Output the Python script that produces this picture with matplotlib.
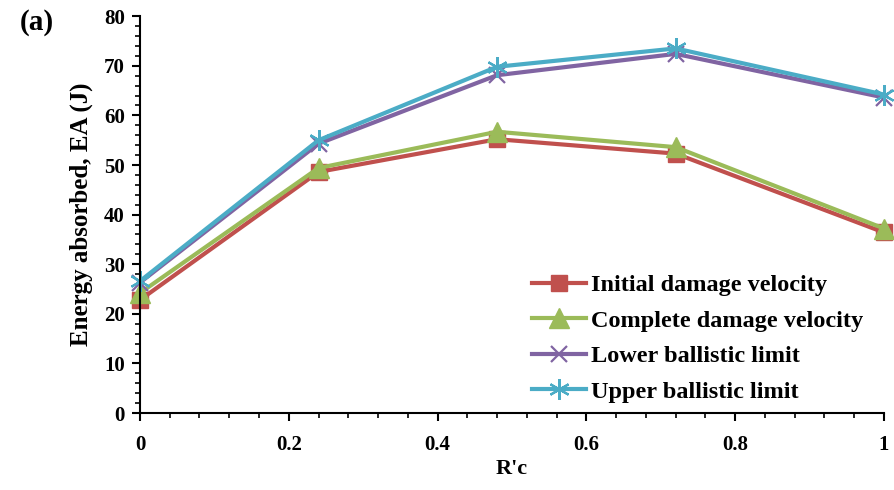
import matplotlib
matplotlib.use("Agg")
import matplotlib.pyplot as plt
from matplotlib.ticker import MultipleLocator

plt.rcParams['font.family'] = ['Liberation Serif', 'DejaVu Serif']
plt.rcParams['font.weight'] = 'bold'

rc = [0, 0.24, 0.48, 0.72, 1.0]
initial_damage = [22.8, 48.6, 55.2, 52.3, 36.4]
complete_damage = [24.2, 49.4, 56.7, 53.6, 37.2]
lower_ballistic = [26.3, 54.3, 68.1, 72.4, 63.6]
upper_ballistic = [26.6, 55.0, 69.8, 73.5, 64.2]

series = [
    ("Initial damage velocity", initial_damage, "#C0504D", "s", 12),
    ("Complete damage velocity", complete_damage, "#9BBB59", "^", 14),
    ("Lower ballistic limit", lower_ballistic, "#8064A2", "x", 12),
    ("Upper ballistic limit", upper_ballistic, "#4BACC6", (6, 2, 0), 15),
]

fig = plt.figure(figsize=(8.95, 4.9), dpi=100)
ax = fig.add_axes([0.1564, 0.157, 0.8313, 0.810])

for name, vals, col, mk, ms in series:
    ax.plot(rc, vals, color=col, lw=3, marker=mk, markersize=ms,
            markeredgewidth=1.6 if mk in ("x", (6, 2, 0)) else 1,
            markerfacecolor=col, markeredgecolor=col, label=name,
            clip_on=False)

ax.set_xlim(0, 1)
ax.set_ylim(0, 80)
ax.xaxis.set_minor_locator(MultipleLocator(0.04))
ax.yaxis.set_major_locator(MultipleLocator(10))
ax.yaxis.set_minor_locator(MultipleLocator(2))
ax.set_xticks([0, 0.2, 0.4, 0.6, 0.8, 1.0])
ax.set_xticklabels(["0", "0.2", "0.4", "0.6", "0.8", "1"])

for s in ("top", "right"):
    ax.spines[s].set_visible(False)
for s in ("left", "bottom"):
    ax.spines[s].set_linewidth(1.5)

ax.tick_params(which="major", direction="out", length=6, width=1.5,
               labelsize=15)
ax.tick_params(axis="x", which="major", pad=10)
ax.tick_params(axis="y", which="major", pad=5)
ax.tick_params(which="minor", direction="out", length=3.5, width=1.2)

ax.set_xlabel("R'c", fontsize=16, fontweight="bold", labelpad=3)
ax.set_ylabel("Energy absorbed, EA (J)", fontsize=18, fontweight="bold",
              labelpad=8)

fig.text(0.022, 0.955, "(a)", fontsize=21, fontweight="bold", va="center")

ax.legend(loc="lower right", bbox_to_anchor=(0.983, 0.004), frameon=False,
          fontsize=17.5, handlelength=2.2, handletextpad=0.2,
          labelspacing=0.56, borderaxespad=0.0, borderpad=0.35)

fig.savefig("out.png", dpi=100)
